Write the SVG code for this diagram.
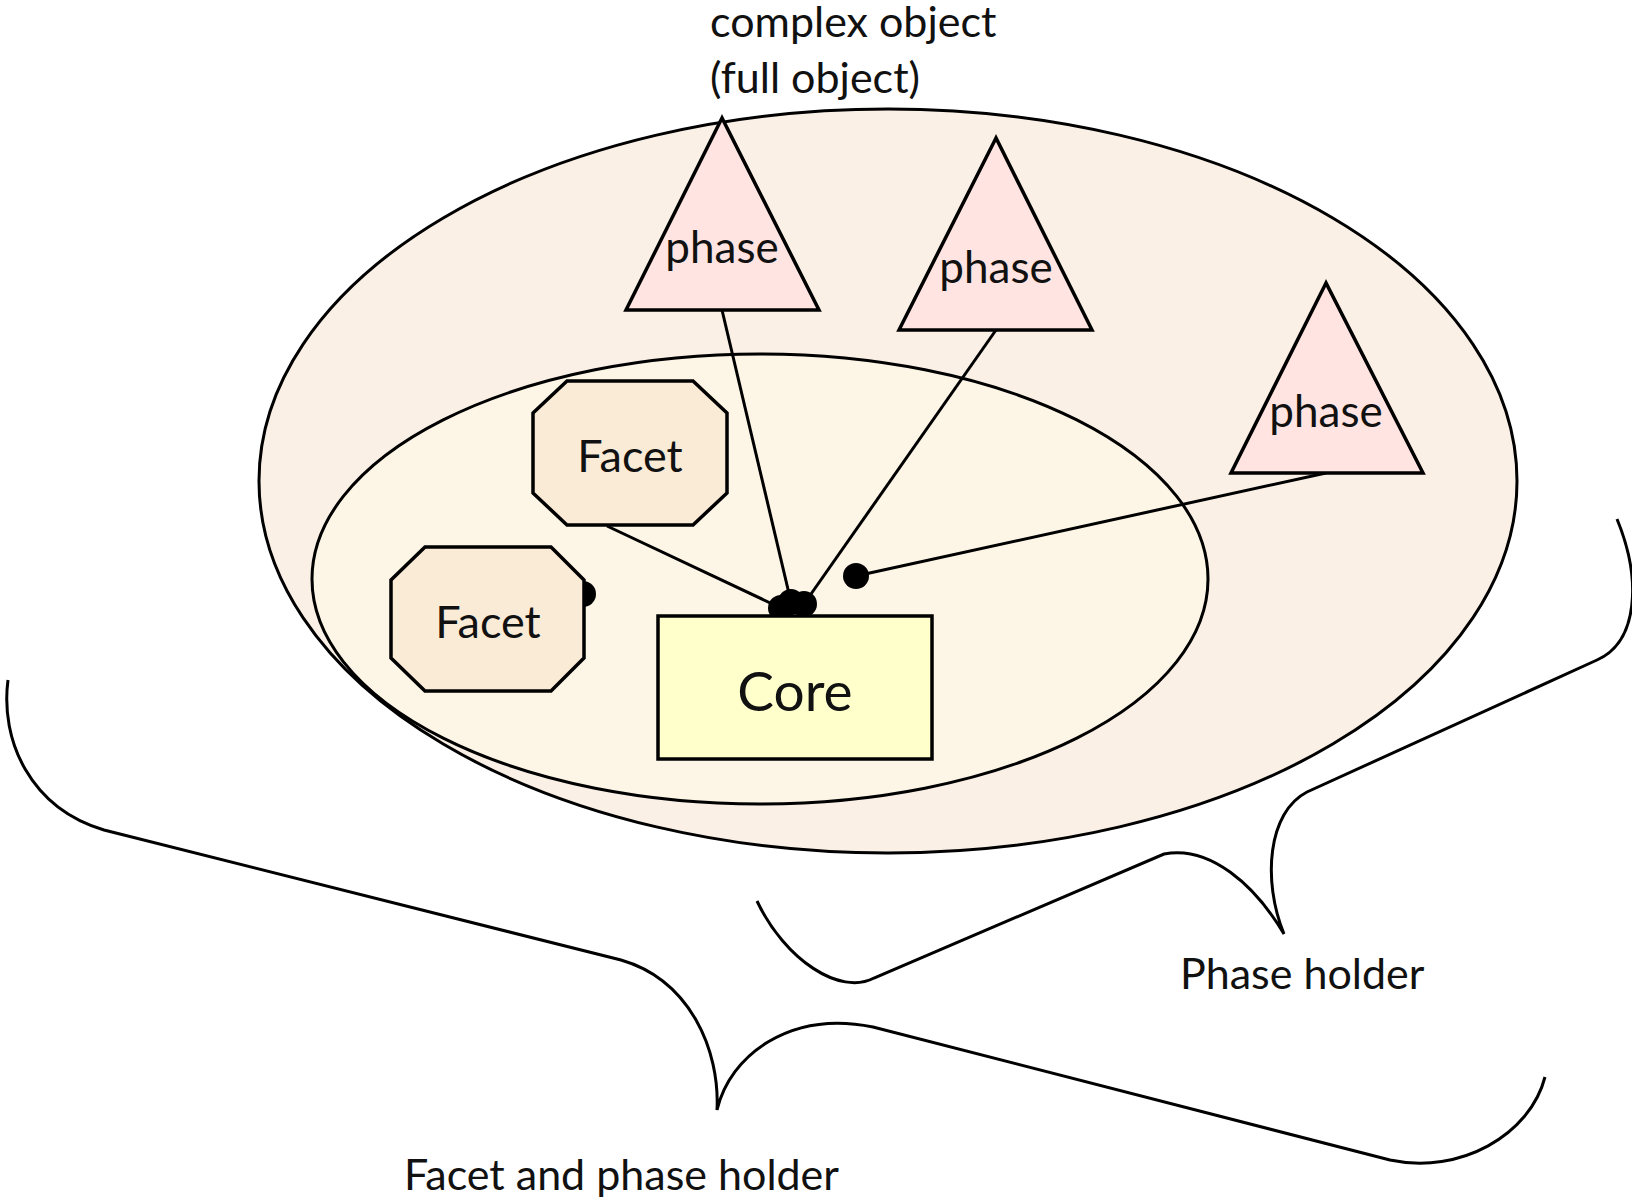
<svg xmlns="http://www.w3.org/2000/svg" width="1632" height="1200" viewBox="0 0 1632 1200">
<style>
  .t { font-family: Lato, "Liberation Sans", sans-serif; fill: #111; }
  .ln { stroke: #000; stroke-width: 3; fill: none; }
  .nd { stroke: #000; stroke-width: 3.5; }
  .dot { fill: #000; }
</style>
<rect width="1632" height="1200" fill="#fff"/>
<g id="outer">
  <ellipse cx="888" cy="481" rx="629" ry="372" fill="#FAF0E6" stroke="#000" stroke-width="3"/>
</g>
<g id="inner">
  <ellipse cx="760" cy="579" rx="448" ry="225" fill="#FDF5E6" stroke="#000" stroke-width="3"/>
</g>
<g id="connectors">
  <line class="ln" x1="722" y1="310" x2="791" y2="602"/>
  <line class="ln" x1="996" y1="330" x2="804" y2="604"/>
  <line class="ln" x1="607" y1="526" x2="781" y2="608"/>
  <line class="ln" x1="1326" y1="473" x2="856" y2="576"/>
  <circle class="dot" cx="791" cy="602" r="13"/>
  <circle class="dot" cx="804" cy="604" r="13"/>
  <circle class="dot" cx="781" cy="608" r="13"/>
  <circle class="dot" cx="856" cy="576" r="13"/>
  <circle class="dot" cx="583" cy="594" r="13"/>
</g>
<g id="phase1">
  <polygon class="nd" points="722,118 626,310 819,310" fill="#FFE4E1"/>
  <text class="t" x="722" y="263" font-size="44" text-anchor="middle">phase</text>
</g>
<g id="phase2">
  <polygon class="nd" points="996,138 899,330 1092,330" fill="#FFE4E1"/>
  <text class="t" x="996" y="283" font-size="44" text-anchor="middle">phase</text>
</g>
<g id="phase3">
  <polygon class="nd" points="1326,283 1231,473 1423,473" fill="#FFE4E1"/>
  <text class="t" x="1326" y="427" font-size="44" text-anchor="middle">phase</text>
</g>
<g id="facet1">
  <polygon class="nd" points="567,381 693,381 727,413 727,493 693,525 567,525 533,493 533,413" fill="#FAEBD7"/>
  <text class="t" x="630" y="472" font-size="45" text-anchor="middle">Facet</text>
</g>
<g id="facet2">
  <polygon class="nd" points="425,547 551,547 584,580 584,658 551,691 425,691 391,658 391,580" fill="#FAEBD7"/>
  <text class="t" x="488" y="638" font-size="45" text-anchor="middle">Facet</text>
</g>
<g id="core">
  <rect class="nd" x="658" y="616" width="274" height="143" fill="#FFFFCC"/>
  <text class="t" x="795" y="711" font-size="55" text-anchor="middle">Core</text>
</g>
<g id="braces">
  <path class="ln" d="M1617,519 C1642,580 1638,642 1597,660 L1307,792 C1268,812 1262,880 1284,934 C1255,885 1210,845 1164,854 L874,978 C840,996 785,960 757,901"/>
  <path class="ln" d="M8,680 C0,740 30,808 104,830 L621,960 C690,980 720,1050 717,1110 C730,1055 790,1010 873,1027 L1390,1160 C1460,1175 1530,1135 1545,1077"/>
</g>
<g id="labels">
  <text class="t" x="710" y="37" font-size="43">complex object</text>
  <text class="t" x="710" y="93" font-size="43">(full object)</text>
  <text class="t" x="1180" y="989" font-size="43">Phase holder</text>
  <text class="t" x="404" y="1190" font-size="43">Facet and phase holder</text>
</g>
</svg>
